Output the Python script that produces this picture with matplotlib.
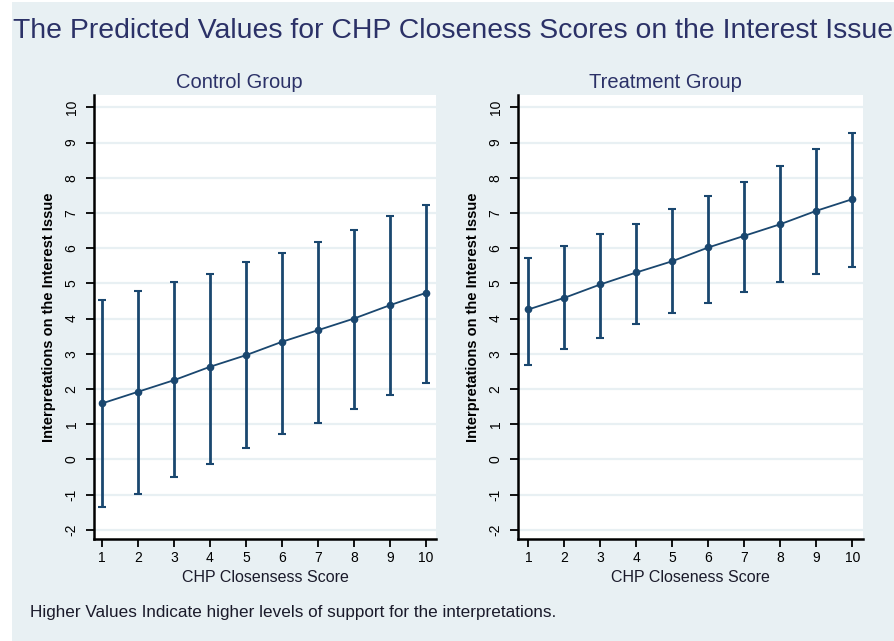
import matplotlib.pyplot as plt
from matplotlib.patches import Rectangle

# data
scores = [1, 2, 3, 4, 5, 6, 7, 8, 9, 10]

control_mean = [1.59, 1.92, 2.25, 2.63, 2.96, 3.34, 3.67, 4.00, 4.38, 4.73]
control_upper = [4.53, 4.78, 5.03, 5.28, 5.61, 5.87, 6.18, 6.51, 6.92, 7.24]
control_lower = [-1.36, -0.97, -0.51, -0.13, 0.33, 0.71, 1.04, 1.43, 1.83, 2.16]

treat_mean = [4.26, 4.59, 4.97, 5.31, 5.63, 6.02, 6.35, 6.68, 7.06, 7.39]
treat_upper = [5.73, 6.06, 6.39, 6.70, 7.10, 7.49, 7.88, 8.34, 8.81, 9.26]
treat_lower = [2.68, 3.13, 3.46, 3.84, 4.17, 4.45, 4.76, 5.03, 5.28, 5.47]

y_ticks = [-2, -1, 0, 1, 2, 3, 4, 5, 6, 7, 8, 9, 10]

bg = '#e8f0f3'
navy = '#1a476f'
txt = '#2b3167'

plt.rcParams['font.family'] = ['Liberation Sans', 'DejaVu Sans']

fig = plt.figure(figsize=(8.95, 6.41), dpi=100)
fig.patch.set_facecolor('white')
W, H = 895, 641
# graph region background (leaves thin white strip on left)
fig.patches.append(Rectangle((12 / W, 0), 1 - 12 / W, 1 - 2 / H,
                             transform=fig.transFigure, facecolor=bg,
                             edgecolor='none', zorder=-10))


def add_panel(left, right, title, title_x, xlabel, mean, lower, upper, x_lo, x_hi):
    top, bottom = 95, 539
    ax = fig.add_axes([left / W, 1 - bottom / H, (right - left) / W, (bottom - top) / H])
    ax.set_facecolor('white')
    yerr = [[m - l for m, l in zip(mean, lower)], [u - m for m, u in zip(mean, upper)]]
    ax.errorbar(scores, mean, yerr=yerr, fmt='-o', color=navy, ms=4.5,
                lw=1.3, elinewidth=2, capsize=3, capthick=1.5, zorder=3)
    ax.set_xlim(x_lo, x_hi)
    ax.set_ylim(-2.26, 10.35)
    ax.set_xticks(scores)
    ax.set_yticks(y_ticks)
    ax.set_yticklabels([str(v) for v in y_ticks], rotation=90, va='center')
    ax.grid(axis='y', color=bg, lw=1.6, zorder=0)
    ax.set_axisbelow(True)
    for s in ['top', 'right']:
        ax.spines[s].set_visible(False)
    for s in ['left', 'bottom']:
        ax.spines[s].set_linewidth(1.8)
    ax.tick_params(direction='out', length=6, width=1.3, labelsize=10, colors='black')
    ax.tick_params(axis='y', pad=5)
    ax.tick_params(axis='x', pad=3)
    ax.set_title(title, fontsize=14.5, color=txt, pad=5, x=title_x)
    ax.set_xlabel(xlabel, fontsize=11.5, labelpad=3, color='#1a1a2a')
    ax.set_ylabel('Interpretations on the Interest Issue', fontsize=10.5,
                  fontweight='bold', labelpad=6)
    return ax


add_panel(94, 436, 'Control Group', 0.424, 'CHP Closensess Score',
          control_mean, control_lower, control_upper, 0.78, 10.28)
add_panel(518, 863, 'Treatment Group', 0.426, 'CHP Closeness Score',
          treat_mean, treat_lower, treat_upper, 0.71, 10.30)

fig.text(13 / W, 1 - 31 / H, 'The Predicted Values for CHP Closeness Scores on the Interest Issue',
         fontsize=20.4, color=txt, va='center', ha='left')
fig.text(30 / W, 1 - 612 / H,
         'Higher Values Indicate higher levels of support for the interpretations.',
         fontsize=12.3, color='#1a1a2a', va='center', ha='left')

fig.savefig('out.png', dpi=100, facecolor=fig.get_facecolor())
